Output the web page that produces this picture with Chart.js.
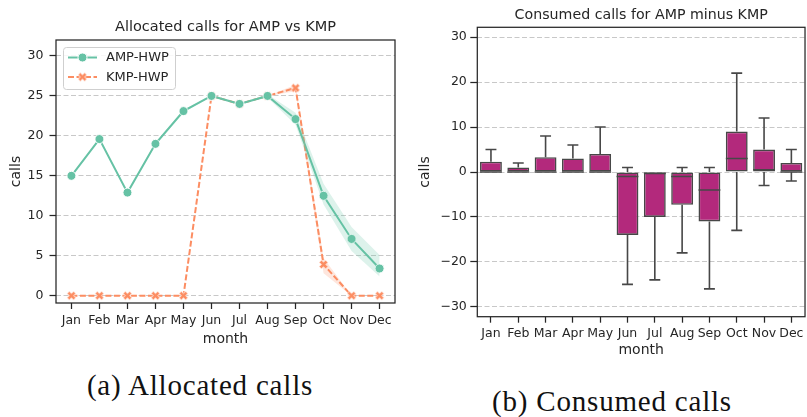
<!DOCTYPE html>
<html>
<head>
<meta charset="utf-8">
<script src="https://cdn.jsdelivr.net/npm/chart.js@4/dist/chart.umd.min.js"></script>
<style>
    body { margin: 0; background: #fff; width: 807px; height: 417px; overflow: hidden; position: relative; }
    .panel { position: absolute; top: 0; }
    .caption {
        position: absolute;
        font-family: "Liberation Serif", serif;
        font-size: 29px;
        letter-spacing: 0.8px;
        color: #111;
        white-space: nowrap;
        line-height: 1;
        transform: translate(-50%, -50%);
    }
</style>
</head>
<body>
<div class="panel" style="left:0;width:410px;height:350px"><canvas id="allocChart" width="410" height="350"></canvas></div>
<div class="panel" style="left:410px;width:397px;height:362px"><canvas id="consumeChart" width="397" height="362"></canvas></div>
<div class="caption" style="left:200px;top:385px">(a) Allocated calls</div>
<div class="caption" style="left:612px;top:401px">(b) Consumed calls</div>

<script>
const months = ["Jan", "Feb", "Mar", "Apr", "May", "Jun", "Jul", "Aug", "Sep", "Oct", "Nov", "Dec"];

// allocated calls, mean with confidence band
const ampHwp = [15, 19.6, 12.9, 19, 23.1, 25, 24, 25, 22.1, 12.5, 7.1, 3.4];
const ampLow = [15, 19.6, 12.9, 18.8, 22.9, 25, 24, 24.8, 21.4, 11.4, 5.6, 2.4];
const ampHigh = [15, 19.6, 12.9, 19.2, 23.3, 25, 24, 25.2, 22.9, 14.0, 8.6, 5.1];
const kmpHwp = [0, 0, 0, 0, 0, 25, 24, 25, 26, 3.9, 0, 0];
const kmpLow = [0, 0, 0, 0, 0, 25, 24, 25, 25.6, 2.8, 0, 0];
const kmpHigh = [0, 0, 0, 0, 0, 25, 24, 25, 26.4, 4.7, 0, 0];

// consumed calls (AMP minus KMP), box plot stats
const boxQ1 = [0, 0, 0, 0, 0, -14, -10, -7.3, -11, 0, 0, 0];
const boxQ3 = [2.3, 1, 3.3, 3, 4, 0, 0, 0, 0, 9, 5, 2];
const boxMedian = [0, 0, 0, 0, 0, -1, -0.3, -1, -4, 3, 0.5, 0];
const whiskerLow = [0, 0, 0, 0, 0, -25, -24, -18, -26, -13, -3, -2];
const whiskerHigh = [5, 2, 8, 6, 10, 1, 0, 1, 1, 22, 12, 5];

const allocTicks = [0, 5, 10, 15, 20, 25, 30];
const consumeTicks = [-30, -20, -10, 0, 10, 20, 30];

const GREEN = "#66c2a5";
const ORANGE = "#fc8d62";
const BOX_FILL = "#b3297c";
const BOX_EDGE = "#474747";
const INK = "#262626";
const GRID = "#c8c8c8";

Chart.defaults.font.family = "'DejaVu Sans', sans-serif";
Chart.defaults.color = INK;
Chart.defaults.animation = false;

function xMarker(color, size) {
    const c = document.createElement("canvas");
    c.width = size;
    c.height = size;
    const g = c.getContext("2d");
    g.translate(size / 2, size / 2);
    g.rotate(Math.PI / 4);
    const a = size * 0.42, b = size * 0.15;
    g.beginPath();
    g.moveTo(-b, -a); g.lineTo(b, -a); g.lineTo(b, -b); g.lineTo(a, -b);
    g.lineTo(a, b); g.lineTo(b, b); g.lineTo(b, a); g.lineTo(-b, a);
    g.lineTo(-b, b); g.lineTo(-a, b); g.lineTo(-a, -b); g.lineTo(-b, -b);
    g.closePath();
    g.fillStyle = color;
    g.fill();
    g.strokeStyle = "#fff";
    g.lineWidth = 0.8;
    g.stroke();
    return c;
}

const kmpMarker = xMarker(ORANGE, 11);

function points(values) {
    return values.map((v, i) => ({ x: i, y: v }));
}

// title centred over the plotting area rather than the canvas
const plotTitle = {
    id: "plotTitle",
    afterDraw(chart, args, opts) {
        const { ctx, chartArea: a } = chart;
        ctx.save();
        ctx.font = opts.size + "px 'DejaVu Sans'";
        ctx.fillStyle = INK;
        ctx.textAlign = "center";
        ctx.textBaseline = "middle";
        ctx.fillText(opts.text, (a.left + a.right) / 2, a.top - opts.offset);
        ctx.restore();
    }
};

// full box around the plotting area
const frame = {
    id: "frame",
    afterDatasetsDraw(chart) {
        const { ctx, chartArea: a } = chart;
        ctx.save();
        ctx.strokeStyle = INK;
        ctx.lineWidth = 1.25;
        ctx.strokeRect(a.left, a.top, a.right - a.left, a.bottom - a.top);
        ctx.restore();
    }
};

const lineLegend = {
    id: "lineLegend",
    afterDraw(chart) {
        const { ctx, chartArea: a } = chart;
        const x0 = a.left + 7, y0 = a.top + 7;
        ctx.save();
        ctx.fillStyle = "rgba(255,255,255,0.85)";
        ctx.strokeStyle = "#cfcfcf";
        ctx.lineWidth = 1;
        ctx.beginPath();
        ctx.roundRect(x0 + 0.5, y0 + 0.5, 112, 42, 3);
        ctx.fill();
        ctx.stroke();

        const entries = chart.data.datasets.filter(d => d.inLegend);
        entries.forEach((d, k) => {
            const y = y0 + 10.5 + k * 19.5;
            ctx.strokeStyle = d.borderColor;
            ctx.lineWidth = 2;
            ctx.setLineDash(d.borderDash || []);
            ctx.beginPath();
            ctx.moveTo(x0 + 5, y);
            ctx.lineTo(x0 + 34, y);
            ctx.stroke();
            ctx.setLineDash([]);
            if (d.pointStyle === "circle") {
                ctx.beginPath();
                ctx.arc(x0 + 19.5, y, 4.5, 0, Math.PI * 2);
                ctx.fillStyle = d.borderColor;
                ctx.fill();
                ctx.strokeStyle = "#fff";
                ctx.lineWidth = 1;
                ctx.stroke();
            } else {
                ctx.drawImage(d.pointStyle, x0 + 19.5 - 5.5, y - 5.5);
            }
            ctx.fillStyle = INK;
            ctx.font = "13px 'DejaVu Sans'";
            ctx.textBaseline = "middle";
            ctx.fillText(d.label, x0 + 43, y + 0.5);
        });
        ctx.restore();
    }
};

// whiskers, caps and medians drawn on top of the floating bars
const boxWhiskers = {
    id: "boxWhiskers",
    afterDatasetsDraw(chart) {
        const { ctx } = chart;
        const y = chart.scales.y;
        const bars = chart.getDatasetMeta(0).data;
        ctx.save();
        ctx.strokeStyle = BOX_EDGE;
        ctx.lineWidth = 1.6;
        bars.forEach((bar, i) => {
            const cx = bar.x;
            const half = bar.width / 2;
            const cap = half / 2;
            const yLo = y.getPixelForValue(whiskerLow[i]);
            const yHi = y.getPixelForValue(whiskerHigh[i]);
            const yQ1 = y.getPixelForValue(boxQ1[i]);
            const yQ3 = y.getPixelForValue(boxQ3[i]);
            const yMed = y.getPixelForValue(boxMedian[i]);
            ctx.beginPath();
            if (whiskerHigh[i] > boxQ3[i]) {
                ctx.moveTo(cx, yQ3); ctx.lineTo(cx, yHi);
                ctx.moveTo(cx - cap, yHi); ctx.lineTo(cx + cap, yHi);
            }
            if (whiskerLow[i] < boxQ1[i]) {
                ctx.moveTo(cx, yQ1); ctx.lineTo(cx, yLo);
                ctx.moveTo(cx - cap, yLo); ctx.lineTo(cx + cap, yLo);
            }
            ctx.moveTo(cx - half, yMed); ctx.lineTo(cx + half, yMed);
            ctx.stroke();
        });
        ctx.restore();
    }
};

function yAxis(min, max, ticks, width, tickLen, pad, titlePad, fmt) {
    return {
        type: "linear",
        min: min,
        max: max,
        afterFit: s => { s.width = width; },
        afterBuildTicks: s => { s.ticks = ticks.map(v => ({ value: v })); },
        ticks: { font: { size: 12.5 }, padding: pad, callback: fmt },
        grid: {
            color: GRID,
            lineWidth: 1,
            tickLength: tickLen,
            tickColor: INK,
            tickWidth: 1.25,
            tickBorderDash: []
        },
        border: { display: false, dash: [5, 2.5] },
        title: { display: true, text: "calls", font: { size: 14 }, padding: { top: titlePad, bottom: 0 } }
    };
}

function initAllocChart() {
    const ctx = document.getElementById("allocChart").getContext("2d");
    new Chart(ctx, {
        type: "line",
        data: {
            datasets: [
                { data: points(ampHigh), fill: "+1", backgroundColor: "rgba(102,194,165,0.22)", borderWidth: 0, pointRadius: 0 },
                { data: points(ampLow), fill: false, borderWidth: 0, pointRadius: 0 },
                { data: points(kmpHigh), fill: "+1", backgroundColor: "rgba(252,141,98,0.22)", borderWidth: 0, pointRadius: 0 },
                { data: points(kmpLow), fill: false, borderWidth: 0, pointRadius: 0 },
                {
                    label: "AMP-HWP", inLegend: true, data: points(ampHwp),
                    borderColor: GREEN, borderWidth: 2, pointStyle: "circle",
                    pointRadius: 4.5, pointBackgroundColor: GREEN, pointBorderColor: "#fff", pointBorderWidth: 1
                },
                {
                    label: "KMP-HWP", inLegend: true, data: points(kmpHwp),
                    borderColor: ORANGE, borderWidth: 2, borderDash: [6, 2.5], pointStyle: kmpMarker
                }
            ]
        },
        options: {
            responsive: false,
            layout: { padding: { left: 0, right: 15, top: 40, bottom: 0 } },
            plugins: {
                legend: { display: false },
                tooltip: { enabled: false },
                plotTitle: { text: "Allocated calls for AMP vs KMP", size: 14.5, offset: 12.3 }
            },
            scales: {
                x: {
                    type: "linear",
                    min: -0.55,
                    max: 11.55,
                    afterFit: s => { s.height = 47; },
                    afterBuildTicks: s => { s.ticks = months.map((m, i) => ({ value: i })); },
                    ticks: { font: { size: 12.5 }, padding: 4.5, autoSkip: false, maxRotation: 0, callback: v => months[v] },
                    grid: { drawOnChartArea: false, tickLength: 6, tickColor: INK, tickWidth: 1.25 },
                    border: { display: false },
                    title: { display: true, text: "month", font: { size: 14 }, padding: { top: 0, bottom: 2.6 } }
                },
                y: yAxis(-0.92, 32, allocTicks, 56, 6.5, 6, 7.6, v => v)
            }
        },
        plugins: [frame, lineLegend, plotTitle]
    });
}

function initConsumeChart() {
    const ctx = document.getElementById("consumeChart").getContext("2d");
    new Chart(ctx, {
        type: "bar",
        data: {
            labels: months,
            datasets: [{
                data: months.map((m, i) => [boxQ1[i], boxQ3[i]]),
                backgroundColor: BOX_FILL,
                borderColor: BOX_EDGE,
                borderWidth: 1.6,
                borderSkipped: false,
                barPercentage: 0.8,
                categoryPercentage: 1
            }]
        },
        options: {
            responsive: false,
            layout: { padding: { left: 0, right: 1, top: 27.3, bottom: 0 } },
            plugins: {
                legend: { display: false },
                tooltip: { enabled: false },
                plotTitle: { text: "Consumed calls for AMP minus KMP", size: 14.2, offset: 11.6 }
            },
            scales: {
                x: {
                    afterFit: s => { s.height = 45.3; },
                    ticks: { font: { size: 12.5 }, padding: 3.5, autoSkip: false, maxRotation: 0 },
                    grid: { drawOnChartArea: false, offset: false, tickLength: 6, tickColor: INK, tickWidth: 1.25 },
                    border: { display: false },
                    title: { display: true, text: "month", font: { size: 14 }, padding: { top: 0, bottom: 3.6 } }
                },
                y: yAxis(-32.2, 32.2, consumeTicks, 67.3, 7, 3.5, 6.6, v => v < 0 ? "\u2212" + Math.abs(v) : String(v))
            }
        },
        plugins: [frame, boxWhiskers, plotTitle]
    });
}

document.addEventListener("DOMContentLoaded", function () {
    initAllocChart();
    initConsumeChart();
});
</script>
</body>
</html>
